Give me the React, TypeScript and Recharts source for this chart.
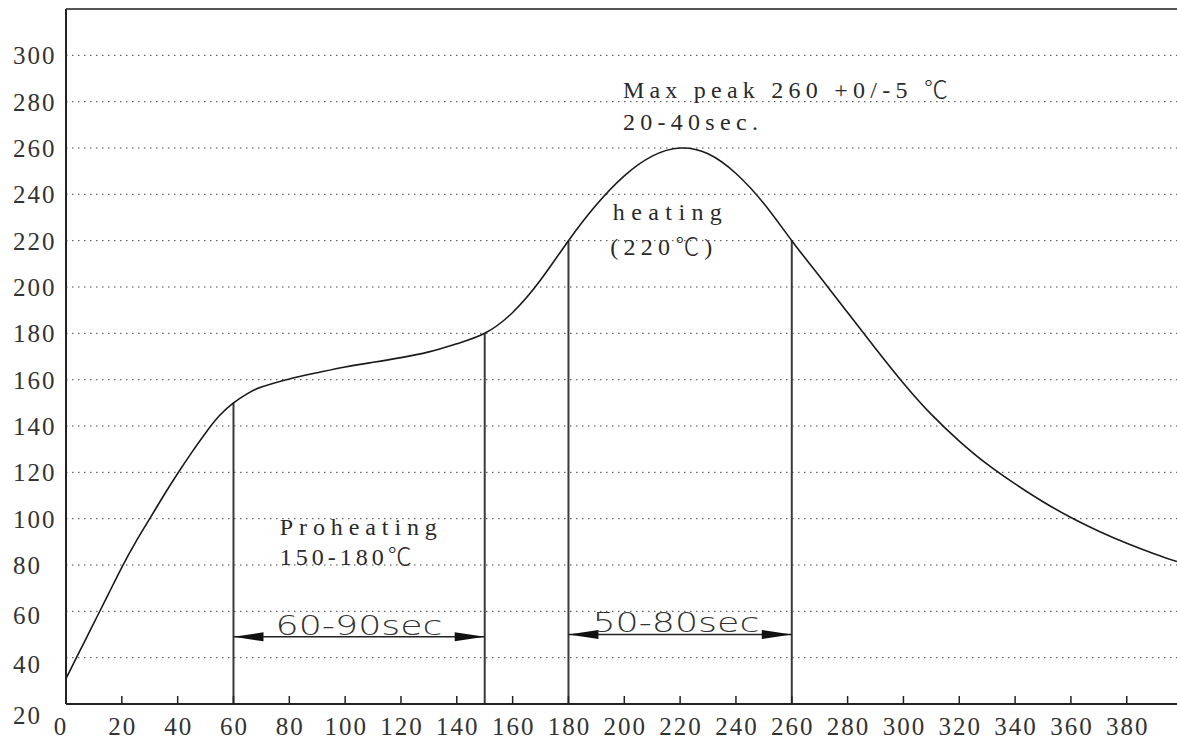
import React from 'react';
import { LineChart, Line, XAxis, YAxis, CartesianGrid, ReferenceLine, ReferenceDot } from 'recharts';

// time (s)
const times = [0, 5, 10, 15, 20, 25, 30, 35, 40, 45, 50, 55, 60, 65, 70, 80, 90, 100, 110, 120, 130, 140, 150, 160, 170, 180, 190, 200, 210, 220, 230, 240, 250, 260, 270, 280, 290, 300, 310, 320, 330, 340, 350, 360, 370, 380, 390, 398];
// temperature (°C)
const temps = [31, 43, 55, 67, 79, 90, 100, 110, 119.5, 128.5, 137, 144.5, 150, 154, 156.8, 160.3, 163, 165.5, 167.5, 169.5, 172, 175.5, 180, 189, 203, 220, 235.5, 248, 256.5, 260, 257.5, 249, 236, 220, 204.5, 189, 173.5, 158.5, 145, 133.5, 123.5, 115, 107.3, 100.5, 94.6, 89.4, 84.8, 81.5];

const xTicks = [0, 20, 40, 60, 80, 100, 120, 140, 160, 180, 200, 220, 240, 260, 280, 300, 320, 340, 360, 380];
const yTicks = [20, 40, 60, 80, 100, 120, 140, 160, 180, 200, 220, 240, 260, 280, 300];

// phase boundaries (s)
const markerTimes = [60, 150, 180, 260];

const data = times.map((t, i) => ({ t, T: temps[i] }));
const tempAt = (t: number) => {
  const i = times.indexOf(t);
  return temps[i];
};

const XTick = (props: any) => {
  const { x, y, payload } = props;
  const v = payload.value;
  return (
    <g>
      {v !== 0 && <line x1={x} x2={x} y1={y} y2={y - 8} stroke="#222" strokeWidth={1.5} />}
      <text x={x + (v === 0 ? -5 : 1)} y={y + 31} textAnchor="middle" fontFamily="Liberation Serif" fontSize={25} letterSpacing={2} fill="#333">
        {v}
      </text>
    </g>
  );
};

const YTick = (props: any) => {
  const { x, y, payload } = props;
  const v = payload.value;
  const extra = v === 20 ? 11 : v === 40 ? 6 : v === 60 ? 4 : 0;
  return (
    <text x={x - 53} y={y + 9 + extra} textAnchor="start" fontFamily="Liberation Serif" fontSize={25} letterSpacing={2} fill="#333">
      {v}
    </text>
  );
};

const ArrowShape = (props: any) => {
  const { x1, y1, x2, y2 } = props;
  const L = 30;
  const H = 4.5;
  return (
    <g>
      <line x1={x1} y1={y1} x2={x2} y2={y2} stroke="#222" strokeWidth={1.5} />
      <polygon points={`${x1},${y1} ${x1 + L},${y1 - H} ${x1 + L},${y1 + H}`} fill="#111" />
      <polygon points={`${x2},${y2} ${x2 - L},${y2 - H} ${x2 - L},${y2 + H}`} fill="#111" />
    </g>
  );
};

const renderWithDegree = (text: string) => {
  const parts = text.split('\u2103');
  if (parts.length === 1) return text;
  return parts.map((p, i) => (
    <React.Fragment key={i}>
      {p}
      {i < parts.length - 1 && (
        <tspan fontFamily="Noto Sans CJK SC" fontWeight={300}>
          {'\u2103'}
        </tspan>
      )}
    </React.Fragment>
  ));
};

const serifLabel = (text: string, len: number) => (props: any) => {
  const vb = props.viewBox || {};
  return (
    <text x={vb.x} y={vb.y} textLength={len} lengthAdjust="spacing" fontFamily="Liberation Serif" fontSize={24} fill="#2a2a2a">
      {renderWithDegree(text)}
    </text>
  );
};

const sansLabel = (text: string, len: number) => (props: any) => {
  const vb = props.viewBox || {};
  return (
    <text x={vb.x} y={vb.y} textAnchor="middle" textLength={len} lengthAdjust="spacingAndGlyphs" fontFamily="DejaVu Sans" fontWeight={200} fontSize={27} fill="#333">
      {text}
    </text>
  );
};

const annotations = [
  { t: 199.5, T: 281.6, text: 'Max peak 260 +0/-5 \u2103', len: 325 },
  { t: 199.5, T: 267.8, text: '20-40sec.', len: 135 },
  { t: 195.9, T: 228.9, text: 'heating', len: 109 },
  { t: 195, T: 213.8, text: '(220\u2103)', len: 102 },
  { t: 76.6, T: 93, text: 'Proheating', len: 157 },
  { t: 76.6, T: 80, text: '150-180\u2103', len: 132 },
];

const spans = [
  { from: 60, to: 150, T: 49, label: '60-90sec', lt: 105, lT: 49.8 },
  { from: 180, to: 260, T: 50, label: '50-80sec', lt: 218.5, lT: 51 },
];

export default function App() {
  return (
    <div style={{ position: 'absolute', left: 0, top: 0, background: '#fff' }}>
      <LineChart width={1177} height={742} data={data} margin={{ top: 9, right: 0, bottom: 0, left: 0 }}>
        <CartesianGrid horizontal vertical={false} stroke="#444" strokeDasharray="1.5 4.5" />
        <XAxis
          type="number"
          dataKey="t"
          domain={[0, 398]}
          ticks={xTicks}
          allowDataOverflow
          height={38}
          axisLine={{ stroke: '#222', strokeWidth: 2 }}
          tickLine={false}
          tickSize={0}
          tickMargin={0}
          tick={<XTick />}
          interval={0}
        />
        <YAxis
          type="number"
          domain={[20, 320]}
          ticks={yTicks}
          allowDataOverflow
          width={66}
          axisLine={{ stroke: '#222', strokeWidth: 2 }}
          tickLine={false}
          tickSize={0}
          tickMargin={0}
          tick={<YTick />}
          interval={0}
        />
        <ReferenceLine y={320} stroke="#555" strokeWidth={2} />
        {markerTimes.map((m) => (
          <ReferenceLine
            key={m}
            segment={[
              { x: m, y: 20 },
              { x: m, y: tempAt(m) },
            ]}
            stroke="#3a3a3a"
            strokeWidth={2}
          />
        ))}
        {spans.map((s) => (
          <ReferenceLine
            key={s.label}
            segment={[
              { x: s.from, y: s.T },
              { x: s.to, y: s.T },
            ]}
            shape={<ArrowShape />}
          />
        ))}
        {spans.map((s) => (
          <ReferenceDot key={'l' + s.label} x={s.lt} y={s.lT} r={0} fill="none" stroke="none" label={{ content: sansLabel(s.label, 167) }} />
        ))}
        {annotations.map((a) => (
          <ReferenceDot key={a.text} x={a.t} y={a.T} r={0} fill="none" stroke="none" label={{ content: serifLabel(a.text, a.len) }} />
        ))}
        <Line type="natural" dataKey="T" stroke="#1a1a1a" strokeWidth={1.6} dot={false} isAnimationActive={false} />
      </LineChart>
    </div>
  );
}
